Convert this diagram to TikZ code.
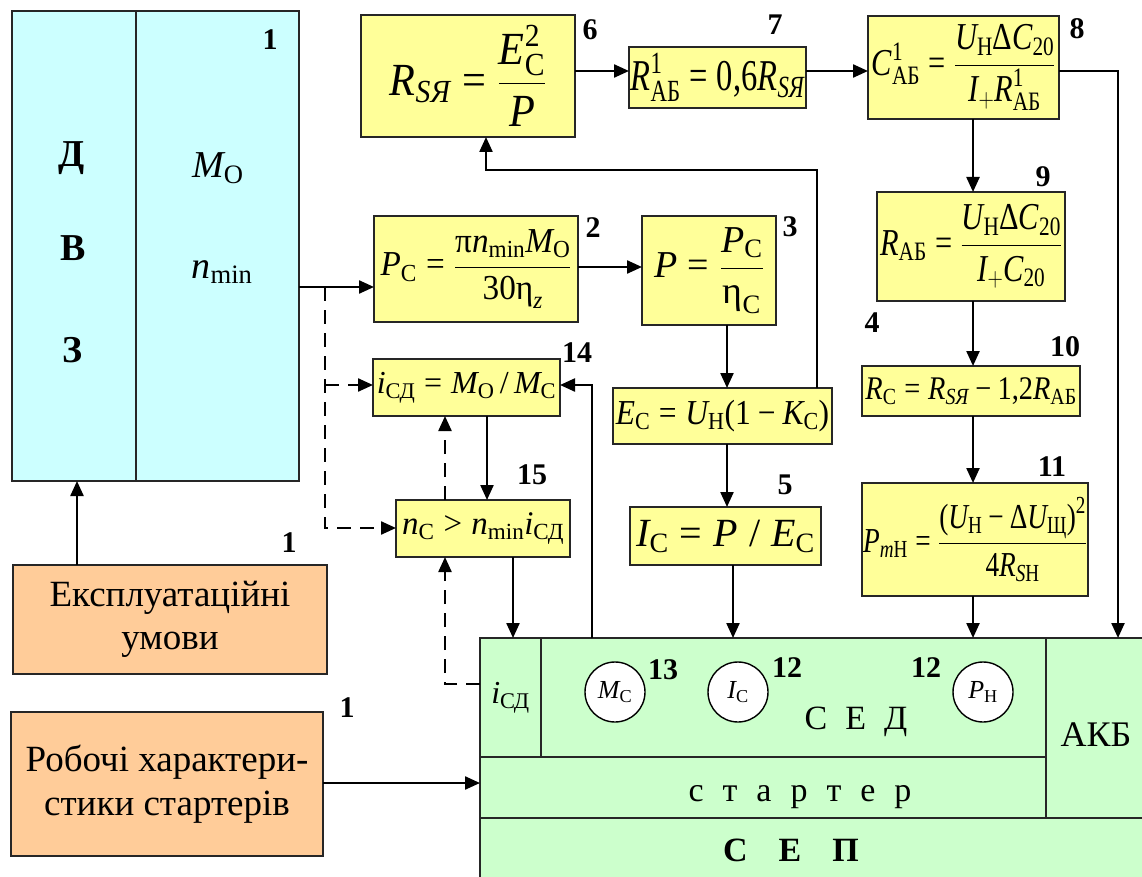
\RequirePackage{fix-cm}
\documentclass[tikz,border=0pt]{standalone}
\usepackage{amsmath}
\usepackage{graphicx}
\usepackage{fontspec}
\IfFontExistsTF{LiberationSerif-Regular.ttf}{%
  \setmainfont{LiberationSerif}[Extension=.ttf, UprightFont=*-Regular, BoldFont=*-Bold, ItalicFont=*-Italic, BoldItalicFont=*-BoldItalic]}{%
  \setmainfont{Liberation Serif}}
\usetikzlibrary{arrows.meta}
\definecolor{cyanf}{HTML}{CCFFFF}
\definecolor{yelf}{HTML}{FFFF99}
\definecolor{orf}{HTML}{FFCC99}
\definecolor{grf}{HTML}{CCFFCC}
\newcommand\I[1]{\textit{#1}}
\newcommand\U[1]{\textup{#1}}
\newcommand\eq{\mathrel{\U{=}}}
\newcommand\mi{\mathbin{\U{−}}}
\newcommand\gt{\mathrel{\U{>}}}
\newcommand\sq[2]{\scalebox{#1}[1]{#2}}
\newcommand\fs[1]{\fontsize{#1}{#1}\selectfont}
\newcommand\bx[8]{\node[boxst, fill=#6, font=#7, minimum width={(#4-#2)*1pt}, minimum height={(#5-#3)*1pt}] (#1) at ({(#2+#4)/2},{(#3+#5)/2}) {#8};}
\tikzset{
  boxst/.style={draw=black!85, line width=1.6pt, inner sep=0pt, outer sep=0pt, align=center},
  num/.style={font=\fontsize{30}{30}\selectfont\bfseries, inner sep=0pt},
  lbl/.style={inner sep=0pt},
  circ/.style={circle, draw=black, line width=1.4pt, fill=white, minimum size=60pt, inner sep=0pt, font=\fs{26}},
  arr/.style={line width=2.3pt, -{Triangle[length=15pt,width=13pt]}},
  dsh/.style={arr, dash pattern=on 14pt off 9pt}
}
\begin{document}
\begin{tikzpicture}[x=1pt,y=-1pt]
\path[use as bounding box] (0,0) rectangle (1142,877);
\clip (0,0) rectangle (1142,877);
% engine block
\bx{dvzL}{12}{11}{136}{481}{cyanf}{}{}
\bx{dvzR}{136}{11}{299}{481}{cyanf}{}{}
\node[lbl, font=\fs{38}\bfseries] (tD) at (72,158) {Д};
\node[lbl, font=\fs{38}\bfseries] (tV) at (73,248) {В};
\node[lbl, font=\fs{38}\bfseries] (tZ) at (73,350) {З};
\node[lbl, font=\fs{38}] (tM) at (218,168) {$\I{M}_{\U{O}}$};
\node[lbl, font=\fs{38}] (tn) at (222,272) {$\I{n}_{\U{min}}$};
\node[num] (n1a) at (270,40) {1};
% input boxes
\bx{eks}{13}{565}{327}{674}{orf}{\fontsize{37}{43}\selectfont}{Експлуатаційні\\умови}
\bx{rob}{11}{712}{323}{856}{orf}{\fontsize{37}{44}\selectfont}{Робочі характери-\\стики стартерів}
\node[num] (n1b) at (289,543) {1};
\node[num] (n1c) at (347,708) {1};
% formula boxes
\bx{b6}{361}{15}{575}{137}{yelf}{\fs{46}}{\sq{0.92}{$\I{R}_{\I{SЯ}}\eq\dfrac{\I{E}_{\U{С}}^{\U{2}}}{\I{P}}$}}
\bx{b7}{629}{47}{806}{108}{yelf}{\fs{44}}{\sq{0.74}{$\I{R}^{\U{1}}_{\U{АБ}}\eq\U{0,6}\I{R}_{\I{SЯ}}$}}
\bx{b8}{868}{16}{1059}{119}{yelf}{\fs{38}}{\sq{0.8}{$\I{C}^{\U{1}}_{\U{АБ}}\eq\dfrac{\I{U}_{\U{Н}}\U{Δ}\I{C}_{\U{20}}}{\I{I}_{+}\I{R}^{\U{1}}_{\U{АБ}}}$}}
\bx{b9}{877}{192}{1065}{301}{yelf}{\fs{38}}{\sq{0.8}{$\I{R}_{\U{АБ}}\eq\dfrac{\I{U}_{\U{Н}}\U{Δ}\I{C}_{\U{20}}}{\I{I}_{+}\I{C}_{\U{20}}}$}}
\bx{b10}{862}{366}{1080}{416}{yelf}{\fs{33}}{\sq{0.86}{$\I{R}_{\U{С}}\eq\I{R}_{\I{SЯ}}\mi\U{1,2}\I{R}_{\U{АБ}}$}}
\bx{b11}{862}{483}{1088}{596}{yelf}{\fs{35}}{\sq{0.78}{$\I{P}_{\I{m}\U{Н}}\eq\dfrac{\U{(}\I{U}_{\U{Н}}\mi\U{Δ}\I{U}_{\U{Щ}}\U{)}^{\U{2}}}{\U{4}\I{R}_{\I{S}\U{Н}}}$}}
\bx{b2}{374}{216}{578}{322}{yelf}{\fs{35}}{\sq{0.95}{$\I{P}_{\U{С}}\eq\dfrac{\U{π}\I{n}_{\U{min}}\I{M}_{\U{O}}}{\U{30η}_{\I{z}}}$}}
\bx{b3}{642}{216}{776}{325}{yelf}{\fs{38}}{$\I{P}\eq\dfrac{\I{P}_{\U{С}}}{\U{η}_{\U{С}}}$}
\bx{bE}{613}{388}{832}{444}{yelf}{\fs{35}}{\sq{0.9}{$\I{E}_{\U{С}}\eq\I{U}_{\U{Н}}\U{(1}\mi\I{K}_{\U{С}}\U{)}$}}
\bx{b5}{630}{507}{821}{565}{yelf}{\fs{40}}{$\I{I}_{\U{С}}\eq\I{P}\;\U{/}\;\I{E}_{\U{С}}$}
\bx{b14}{373}{359}{560}{416}{yelf}{\fs{32}}{$\I{i}_{\U{СД}}\eq\I{M}_{\U{O}}\,\U{/}\,\I{M}_{\U{С}}$}
\bx{b15}{396}{500}{570}{557}{yelf}{\fs{33}}{$\I{n}_{\U{С}}\gt\I{n}_{\U{min}}\I{i}_{\U{СД}}$}
\node[num] (n6) at (590,30) {6};
\node[num] (n7) at (775,25) {7};
\node[num] (n8) at (1077,29) {8};
\node[num] (n9) at (1043,177) {9};
\node[num] (n4) at (872,323) {4};
\node[num] (n10) at (1065,347) {10};
\node[num] (n11) at (1052,467) {11};
\node[num] (n2) at (593,228) {2};
\node[num] (n3) at (790,227) {3};
\node[num] (n5) at (785,485) {5};
\node[num] (n14) at (577,353) {14};
\node[num] (n15) at (532,475) {15};
% SEP panel
\bx{sepi}{480}{638}{541}{757}{grf}{\fs{32}}{$\I{i}_{\U{СД}}$}
\bx{sed}{541}{638}{1046}{757}{grf}{}{}
\bx{start}{480}{757}{1046}{818}{grf}{}{}
\bx{akb}{1046}{638}{1150}{818}{grf}{}{}
\bx{sep}{480}{818}{1150}{885}{grf}{}{}
\node[lbl, font=\fs{34}] (tsed) at (856,722) {С\hspace{18pt}Е\hspace{18pt}Д};
\node[lbl, font=\fs{34}] (tst) at (800,797) {с\hspace{19pt}т\hspace{19pt}а\hspace{19pt}р\hspace{19pt}т\hspace{19pt}е\hspace{19pt}р};
\node[lbl, font=\fs{34}\bfseries] (tsep) at (791,850) {С\hspace{31pt}Е\hspace{31pt}П};
\node[lbl, font=\fs{36}] (takb) at (1096,735) {АКБ};
\node[circ] (cM) at (615,692) {$\I{M}_{\U{С}}$};
\node[circ] (cI) at (738,692) {$\I{I}_{\U{С}}$};
\node[circ] (cP) at (983,692) {$\I{P}_{\U{Н}}$};
\node[num] (n13) at (663,670) {13};
\node[num] (n12a) at (787,668) {12};
\node[num] (n12b) at (926,668) {12};
% helper coordinates
\coordinate (j1) at (325,287);
\coordinate (j2) at (325,528);
\coordinate (j3) at (325,385);
\coordinate (j4) at (445,684);
\coordinate (j5) at (592,385);
\coordinate (j6) at (817,170);
\coordinate (j7) at (486,170);
\coordinate (j8) at (1118,71);
\coordinate (xa) at (487,0);
\coordinate (xb) at (445,0);
\coordinate (xc) at (513,0);
\coordinate (xd) at (727,0);
\coordinate (xe) at (733,0);
\coordinate (xf) at (973,0);
\coordinate (xg) at (77,0);
\coordinate (ya) at (0,267);
\coordinate (yb) at (0,71);
\coordinate (yc) at (0,783);
% connectors
\draw[arr] (dvzR.east|-j1) -- (b2.west|-j1);
\draw[dsh] (j1) -- (j2) -- (b15.west|-j2);
\draw[dsh] (j3) -- (b14.west|-j3);
\draw[arr] (b14.south-|xa) -- (b15.north-|xa);
\draw[dsh] (b15.north-|xb) -- (b14.south-|xb);
\draw[dsh] (sepi.west|-j4) -- (j4) -- (b15.south-|j4);
\draw[arr] (b15.south-|xc) -- (sepi.north-|xc);
\draw[arr] (sed.north-|j5) -- (j5) -- (b14.east|-j5);
\draw[arr] (b2.east|-ya) -- (b3.west|-ya);
\draw[arr] (b3.south-|xd) -- (bE.north-|xd);
\draw[arr] (bE.north-|j6) -- (j6) -- (j7) -- (b6.south-|j7);
\draw[arr] (bE.south-|xd) -- (b5.north-|xd);
\draw[arr] (b5.south-|xe) -- (sed.north-|xe);
\draw[arr] (b6.east|-yb) -- (b7.west|-yb);
\draw[arr] (b7.east|-yb) -- (b8.west|-yb);
\draw[arr] (b8.east|-j8) -- (j8) -- (akb.north-|j8);
\draw[arr] (b8.south-|xf) -- (b9.north-|xf);
\draw[arr] (b9.south-|xf) -- (b10.north-|xf);
\draw[arr] (b10.south-|xf) -- (b11.north-|xf);
\draw[arr] (b11.south-|xf) -- (sed.north-|xf);
\draw[arr] (eks.north-|xg) -- (dvzL.south-|xg);
\draw[arr] (rob.east|-yc) -- (start.west|-yc);
\end{tikzpicture}
\end{document}
